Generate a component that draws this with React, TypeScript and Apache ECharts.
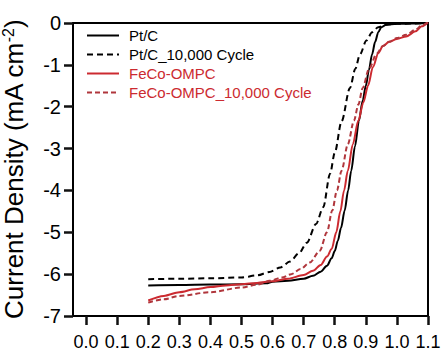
import React, { useEffect, useRef } from 'react';
import * as echarts from 'echarts';

const seriesNames = ['Pt/C', 'Pt/C_10,000 Cycle', 'FeCo-OMPC', 'FeCo-OMPC_10,000 Cycle'];
const xTicks = [0, 0.1, 0.2, 0.3, 0.4, 0.5, 0.6, 0.7, 0.8, 0.9, 1.0, 1.1];

const ptC: [number, number][] = [
  [0.2, -6.27], [0.3, -6.26], [0.4, -6.25], [0.5, -6.24], [0.58, -6.22], [0.6, -6.18], [0.65, -6.16],
  [0.7, -6.11], [0.73, -6.04], [0.755, -5.94], [0.775, -5.8], [0.79, -5.62], [0.8, -5.45], [0.81, -5.2],
  [0.82, -4.9], [0.832, -4.48], [0.843, -4.0], [0.853, -3.53], [0.865, -2.95], [0.878, -2.33], [0.89, -1.85],
  [0.9, -1.5], [0.91, -1.12], [0.92, -0.75], [0.93, -0.45], [0.94, -0.22], [0.95, -0.1], [0.965, -0.04],
  [1.0, -0.02], [1.05, -0.01], [1.1, 0],
];
const ptC10k: [number, number][] = [
  [0.2, -6.12], [0.3, -6.11], [0.4, -6.1], [0.5, -6.08], [0.55, -6.03], [0.59, -5.95], [0.625, -5.84],
  [0.656, -5.7], [0.685, -5.5], [0.71, -5.25], [0.74, -4.8], [0.763, -4.4], [0.785, -3.6], [0.8, -3.1],
  [0.822, -2.35], [0.849, -1.55], [0.866, -1.1], [0.881, -0.75], [0.902, -0.42], [0.92, -0.22], [0.94, -0.1],
  [0.967, -0.04], [1.0, -0.02], [1.1, 0],
];
const feCo: [number, number][] = [
  [0.2, -6.63], [0.25, -6.52], [0.3, -6.43], [0.35, -6.36], [0.4, -6.31], [0.45, -6.27], [0.5, -6.24],
  [0.55, -6.21], [0.6, -6.17], [0.65, -6.11], [0.7, -6.02], [0.73, -5.92], [0.755, -5.78], [0.775, -5.58],
  [0.79, -5.4], [0.805, -5.0], [0.818, -4.5], [0.83, -4.0], [0.842, -3.53], [0.858, -2.9], [0.876, -2.33],
  [0.892, -1.9], [0.907, -1.5], [0.923, -1.05], [0.94, -0.72], [0.955, -0.55], [0.975, -0.45], [1.0, -0.38],
  [1.03, -0.32], [1.06, -0.2], [1.08, -0.08], [1.1, 0.02],
];
const feCo10k: [number, number][] = [
  [0.2, -6.68], [0.25, -6.6], [0.3, -6.52], [0.4, -6.43], [0.5, -6.32], [0.55, -6.25], [0.59, -6.16],
  [0.63, -6.08], [0.66, -6.0], [0.69, -5.88], [0.72, -5.72], [0.752, -5.44], [0.775, -5.0], [0.792, -4.48],
  [0.807, -4.0], [0.822, -3.53], [0.842, -2.9], [0.862, -2.33], [0.876, -1.95], [0.89, -1.55], [0.91, -1.1],
  [0.935, -0.73], [0.955, -0.55], [0.975, -0.45], [1.0, -0.36], [1.03, -0.28], [1.06, -0.16], [1.08, -0.06],
  [1.1, 0.02],
];

const RED = '#cc2a30';
const RED_DASH = '#b0363c';
const FONT = 'Liberation Sans, Arial, sans-serif';
const TICK = '#111';

export default function App() {
  const ref = useRef<HTMLDivElement>(null);
  useEffect(() => {
    if (!ref.current) return;
    const chart = echarts.init(ref.current, null, { renderer: 'svg' });
    const mk = (name: string, data: [number, number][], color: string, type: any, width: number) => ({
      name,
      type: 'line',
      data,
      symbol: 'none',
      smooth: 0.3,
      smoothMonotone: 'x',
      lineStyle: { color, type, width },
      itemStyle: { color },
      z: 3,
    });
    chart.setOption({
      animation: false,
      textStyle: { fontFamily: FONT },
      grid: {
        left: 73, right: 15, top: 23, bottom: 38,
        outerBoundsMode: 'none', containLabel: false,
        show: true, borderColor: '#000', borderWidth: 2,
      },
      legend: {
        orient: 'vertical',
        left: 86,
        top: 28,
        padding: 0,
        itemWidth: 32,
        itemHeight: 14,
        itemGap: 4,
        itemStyle: { opacity: 0 },
        textStyle: { fontSize: 15, fontFamily: FONT, padding: [0, 0, 0, 5] },
        data: [
          { name: seriesNames[0], textStyle: { color: '#000' } },
          { name: seriesNames[1], textStyle: { color: '#000' } },
          { name: seriesNames[2], textStyle: { color: RED } },
          { name: seriesNames[3], textStyle: { color: RED } },
        ],
      },
      xAxis: {
        type: 'value',
        min: -0.042,
        max: 1.1,
        splitLine: { show: false },
        axisLine: { show: true, onZero: false, lineStyle: { color: '#000', width: 2 } },
        axisTick: { show: true, length: 9, lineStyle: { color: TICK, width: 2.5 }, customValues: xTicks },
        axisLabel: {
          customValues: xTicks,
          formatter: (v: number) => v.toFixed(1),
          fontSize: 18,
          color: '#000',
          margin: 17,
          fontFamily: FONT,
        },
      },
      yAxis: {
        type: 'value',
        min: -7,
        max: 0,
        interval: 1,
        splitLine: { show: false },
        axisLine: { show: true, onZero: false, lineStyle: { color: '#000', width: 2 } },
        axisTick: { show: true, length: 9, lineStyle: { color: TICK, width: 2.5 } },
        axisLabel: { fontSize: 20, color: '#000', margin: 12, fontFamily: FONT },
        name: 'Current Density (mA cm{sup|-2})',
        nameLocation: 'middle',
        nameGap: 45,
        nameRotate: 90,
        nameTextStyle: {
          fontSize: 26,
          color: '#000',
          fontFamily: FONT,
          rich: { sup: { fontSize: 16, color: '#000', fontFamily: FONT, verticalAlign: 'top', padding: [0, 0, 12, 0] } },
        },
      },
      series: [
        mk(seriesNames[0], ptC, '#000', 'solid', 2),
        mk(seriesNames[1], ptC10k, '#000', [6, 4], 2),
        mk(seriesNames[2], feCo, RED, 'solid', 2),
        mk(seriesNames[3], feCo10k, RED_DASH, [5, 3], 2),
      ],
    });
    return () => chart.dispose();
  }, []);
  return <div ref={ref} style={{ position: 'absolute', left: 0, top: 0, width: 443, height: 354 }} />;
}
